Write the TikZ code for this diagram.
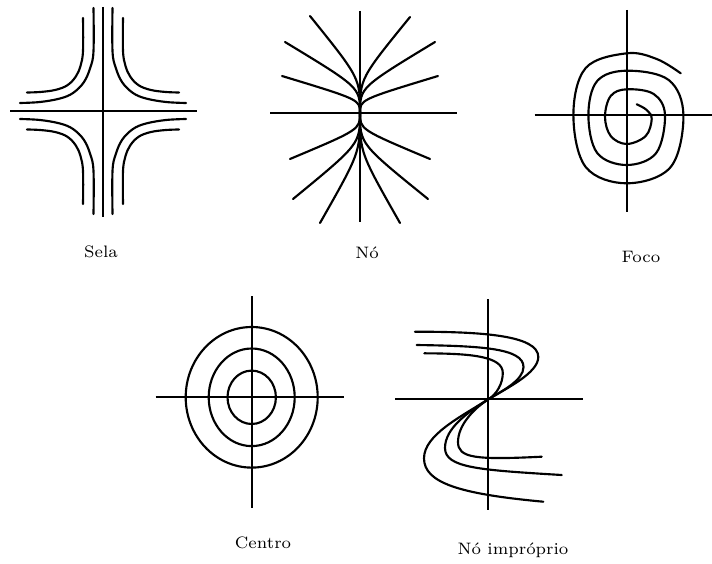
\documentclass[tikz,border=0pt]{standalone}
\begin{document}
\begin{tikzpicture}[x=0.75pt,y=-0.75pt,
  curve/.style={line width=1.6pt,line cap=round,line join=round},
  axis/.style={line width=1.6pt},
  lbl/.style={font=\fontsize{7}{8}\selectfont,scale=1.78,transform shape,inner sep=0pt}]
\useasboundingbox (0,0) rectangle (712,563);

% ---------- Sela ----------
\begin{scope}[shift={(103,111)}]
  \draw[axis] (-93,0) -- (94,0);
  \draw[axis] (0,-104) -- (0,106);
  \foreach \sx/\sy in {1/1,-1/1,1/-1,-1/-1}{
    \begin{scope}[xscale=\sx,yscale=\sy]
      \draw[curve] plot[smooth,tension=0.6] coordinates {(-9.5,-103) (-9.5,-60) (-12.5,-44) (-19,-29) (-30,-18) (-43,-12.5) (-63,-9) (-83,-8)};
      \draw[curve] plot[smooth,tension=0.6] coordinates {(-20,-93) (-20,-60) (-22.5,-45) (-27.5,-34) (-36,-25.5) (-48,-21) (-63,-19) (-76,-18.5)};
    \end{scope}
  }
\end{scope}
\node[lbl] (sela) at (101,252) {Sela};

% ---------- No ----------
\begin{scope}[shift={(360,113)}]
  \draw[axis] (-90,0) -- (97,0);
  \draw[axis] (0,-102) -- (0,109);
  \foreach \ex/\ey in {-50/-97,-75/-71,-78/-37,50/-96,75/-71,78/-37,-70/46,-67/86,-40/110,70/46,68/86,40/110}{
    \draw[curve] (0,0) .. controls (0,0.36*\ey) .. (\ex,\ey);
  }
\end{scope}
\node[lbl] (no) at (367,253) {Nó};

% ---------- Foco ----------
\begin{scope}[shift={(626.7,115)}]
  \draw[axis] (-92,0) -- (86,0);
  \draw[axis] (0,-105) -- (0,97);
  \draw[curve] plot[smooth,tension=0.6] coordinates {
    (10,-10.7) (20,-5) (25,4) (19,21) (0,29) (-16,21) (-21.7,1.7) (-16,-19) (0,-25.7)
    (27,-21) (38.3,0) (29.5,38) (0,50) (-29.5,38) (-38.3,0) (-29.5,-34) (0,-44.3)
    (42,-35) (56.7,0) (44,52) (0,68.3) (-41,52) (-53.3,0) (-41,-47) (0,-61.7)
    (30,-56) (54,-41.7)};
\end{scope}
\node[lbl] (foco) at (641,257) {Foco};

% ---------- Centro ----------
\begin{scope}[shift={(251.7,397.3)}]
  \draw[axis] (-96,0) -- (92,0);
  \draw[axis] (0,-101) -- (0,111);
  \draw[curve] (0,0) ellipse [x radius=24.2,y radius=26.7];
  \draw[curve] (0,0) ellipse [x radius=43,y radius=48.8];
  \draw[curve] (0,0) ellipse [x radius=66,y radius=70.3];
\end{scope}
\node[lbl] (centro) at (263,543) {Centro};

% ---------- No improprio ----------
\coordinate (o) at (488.3,399.3);
\draw[axis] (395,399.3) -- (582.7,399.3);
\draw[axis] (488.3,299.3) -- (488.3,510);
% upper curves
\draw[curve] (415,331.7) .. controls (480,331.7) and (538.3,335) .. (538.3,357)
  .. controls (538.3,373) and (506.5,388.3) .. (o);
\draw[curve] (416.7,345) .. controls (480,346) and (523.5,348) .. (523.5,367)
  .. controls (523.5,380) and (503,390.5) .. (o);
\draw[curve] (424.3,353.3) .. controls (470,353.5) and (502.8,356) .. (502.8,373)
  .. controls (502.8,383) and (497,394.2) .. (o);
% lower curves
\draw[curve] (o) .. controls (460.5,416.9) and (424,435) .. (424,458.3)
  .. controls (424,483) and (460,494) .. (543.3,501.7);
\draw[curve] (o) .. controls (468,412.2) and (445,428) .. (445,448)
  .. controls (445,468) and (480,470) .. (561.7,475);
\draw[curve] (o) .. controls (474,408.5) and (458,425) .. (458,442)
  .. controls (458,458) and (475,460) .. (541.7,456.7);
\node[lbl] (noimp) at (513,550) {Nó impróprio};
\end{tikzpicture}
\end{document}
